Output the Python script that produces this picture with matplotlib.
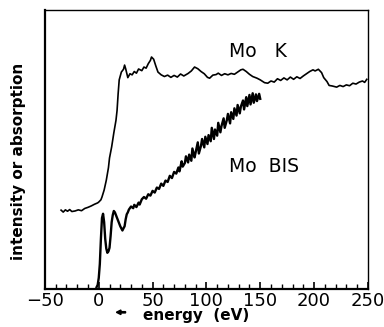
import matplotlib
matplotlib.use('Agg')
import matplotlib.pyplot as plt
from matplotlib.ticker import MultipleLocator

plt.rcParams['font.family'] = ['DejaVu Sans']

# Mo K absorption edge (energy eV, arbitrary intensity)
mok_e = [-35, -33, -31, -29, -27, -25, -22, -19, -16, -13, -10, -7, -4, -1, 0, 2, 3, 5, 7, 9, 10,
         12, 14, 16, 17, 18, 19, 21, 23, 24, 25, 27, 29, 31, 33, 35, 37, 40, 42, 44, 46, 48, 49,
         51, 53, 55, 58, 61, 64, 67, 70, 73, 76, 79, 83, 86, 89, 92, 95, 98, 101, 103, 106, 109,
         111, 114, 117, 120, 123, 126, 129, 132, 134, 137, 140, 143, 147, 150, 154, 157, 160, 163,
         166, 169, 172, 175, 178, 181, 184, 187, 190, 193, 196, 199, 201, 204, 207, 209, 212, 214,
         217, 221, 224, 227, 230, 233, 236, 239, 242, 245, 247, 249]
mok_y = [28.3, 27.6, 28.4, 27.9, 28.5, 27.8, 28.0, 28.4, 28.1, 28.9, 29.3, 29.8, 30.4, 30.9, 31.2, 32.0, 33.0, 35.5, 39.0, 43.5, 47.0,
         51.0, 56.0, 60.5, 64.0, 70.0, 75.0, 77.8, 78.8, 80.3, 79.0, 75.8, 77.2, 76.8, 78.0, 77.4, 78.9, 78.3, 79.6, 79.2, 80.8, 82.0, 83.2,
         82.4, 80.0, 77.8, 76.8, 76.2, 76.7, 75.9, 76.6, 76.0, 77.1, 76.4, 77.3, 78.2, 79.6, 79.0, 78.0, 77.2, 75.9, 75.6, 76.7, 76.9,
         77.4, 76.6, 77.2, 76.8, 77.3, 77.0, 77.8, 78.6, 78.8, 78.0, 77.0, 76.2, 75.6, 75.0, 74.0, 73.8, 74.6, 74.2, 75.4, 74.8, 75.7, 75.0,
         76.0, 75.2, 76.1, 75.5, 76.4, 77.2, 78.0, 78.6, 78.2, 78.8, 77.6, 75.8, 74.4, 73.0, 72.8, 72.4, 73.0, 72.6, 73.2, 72.9, 73.8, 73.5,
         74.2, 74.6, 74.1, 75.2]

# Mo BIS spectrum
bis_e = [-2, -1, 0, 1, 2, 3, 4, 5, 6, 7, 8, 9, 10, 11, 12, 13, 14, 15, 16, 18, 20, 22, 23, 24, 25, 26, 27,
         28, 30, 32, 33, 35, 37, 38, 40, 42, 44, 46, 48, 50, 52, 54, 56, 58, 60, 62, 64, 66, 68, 70, 72,
         74, 75, 77, 78, 80, 81, 83, 84, 86, 87, 89, 90, 92, 93, 95, 96, 98, 99, 101, 102, 104, 105, 107,
         108, 110, 111, 113, 114, 116, 117, 119, 120, 122, 123, 125, 126, 128, 129, 131, 132, 134, 135,
         137, 138, 140, 141, 143, 144, 146, 147, 149, 150]
bis_y = [0.7, 1.5, 4.0, 9.0, 18.0, 25.5, 27.0, 24.0, 18.0, 14.5, 13.0, 13.5, 14.8, 19.0, 24.0, 26.5, 28.0, 27.5, 26.5, 24.5, 22.5, 21.0, 21.8, 22.5, 25.0, 26.8, 27.5,
         28.5, 29.6, 29.0, 30.2, 29.4, 31.0, 30.3, 32.2, 33.0, 32.4, 34.0, 33.5, 35.2, 34.6, 36.4, 35.9, 37.8, 37.0, 38.9, 38.4, 40.6, 39.8, 42.0, 41.4,
         43.6, 42.2, 45.8, 43.9, 45.2, 47.6, 45.4, 48.2, 46.0, 50.4, 47.2, 49.0, 52.6, 48.6, 51.4, 53.8, 50.8, 54.6, 52.0, 55.2, 53.0, 57.8, 53.8,
         57.2, 55.0, 59.6, 56.2, 58.4, 61.2, 57.8, 60.6, 62.8, 59.4, 63.4, 61.0, 64.8, 62.2, 66.0, 63.0, 65.4, 67.6, 64.4, 68.8, 65.6, 69.6, 66.2, 70.2,
         66.8, 69.8, 67.4, 70.0, 68.2]

fig = plt.figure(figsize=(3.84, 3.27), dpi=100)
ax = fig.add_axes([0.117, 0.116, 0.841, 0.853])

ax.plot(mok_e, mok_y, color='black', linewidth=1.2)
ax.plot(bis_e, bis_y, color='black', linewidth=1.7)

ax.text(121, 85, 'Mo   K', fontsize=13.5, va='center', ha='left')
ax.text(121, 44, 'Mo  BIS', fontsize=13.5, va='center', ha='left')

ax.set_ylim(0, 100)
ax.set_yticks([])
ax.xaxis.set_major_locator(MultipleLocator(50))
ax.xaxis.set_minor_locator(MultipleLocator(10))
ax.tick_params(axis='x', which='major', direction='in', length=5, width=1.2, labelsize=13, pad=2)
ax.tick_params(axis='x', which='minor', direction='in', length=3.5, width=1.0)
ax.set_xticks([-50, 0, 50, 100, 150, 200, 250])
ax.set_xticklabels(['\u221250', '0', '50', '100', '150', '200', '250'])
ax.set_xlim(-50, 250)

ax.spines['left'].set_linewidth(1.6)
ax.spines['bottom'].set_linewidth(1.6)
ax.spines['top'].set_linewidth(1.0)
ax.spines['right'].set_linewidth(1.0)

fig.text(0.047, 0.505, 'intensity or absorption', rotation=90, fontsize=11,
         fontweight='bold', va='center', ha='center')
fig.text(0.51, 0.034, 'energy  (eV)', fontsize=11, fontweight='bold', va='center', ha='center')
fig.add_artist(matplotlib.patches.FancyArrow(0.327, 0.045, -0.012, 0, width=0.004,
                                             head_width=0.014, head_length=0.012,
                                             transform=fig.transFigure, color='black'))

fig.savefig('out.png', dpi=100)
